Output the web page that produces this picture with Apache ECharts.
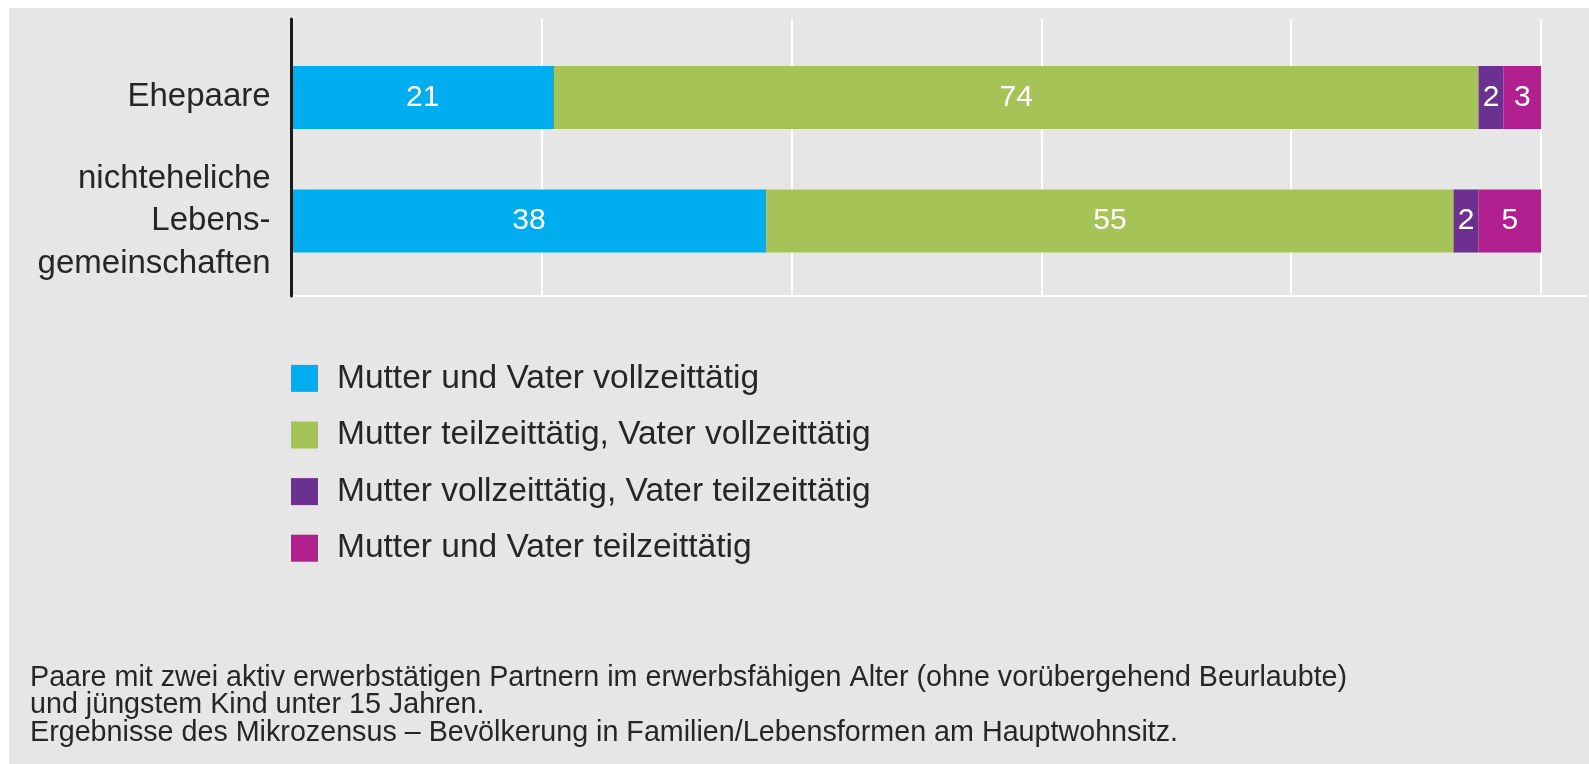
<!DOCTYPE html>
<html>
<head>
<meta charset="utf-8">
<script src="https://cdn.jsdelivr.net/npm/echarts@6/dist/echarts.min.js"></script>
<style>
  html, body { margin: 0; padding: 0; background: #ffffff; }
  #chart { width: 1589px; height: 764px; }
</style>
</head>
<body>
<div id="chart"></div>
<script>
// data
const categories = ["Ehepaare", "nichteheliche\nLebens-\ngemeinschaften"];
const seriesNames = [
  "Mutter und Vater vollzeittätig",
  "Mutter teilzeittätig, Vater vollzeittätig",
  "Mutter vollzeittätig, Vater teilzeittätig",
  "Mutter und Vater teilzeittätig",
];
const bothFull = [21, 38];
const motherPart = [74, 55];
const fatherPart = [2, 2];
const bothPart = [3, 5];
const colors = ["#00aeef", "#a6c358", "#6b3090", "#b21f8e"];
const footnote = [
  "Paare mit zwei aktiv erwerbstätigen Partnern im erwerbsfähigen Alter (ohne vorübergehend Beurlaubte)",
  "und jüngstem Kind unter 15 Jahren.",
  "Ergebnisse des Mikrozensus – Bevölkerung in Familien/Lebensformen am Hauptwohnsitz.",
];

const font = "'Liberation Sans', Arial, Helvetica, sans-serif";
const textColor = "#262626";

var myChart = echarts.init(document.getElementById("chart"));

const makeSeries = (name, data, i) => ({
  name: name,
  type: "bar",
  stack: "total",
  xAxisIndex: 1,
  yAxisIndex: 1,
  barWidth: 63,
  data: data,
  itemStyle: { color: colors[i] },
  label: {
    show: true,
    position: "inside",
    color: "#ffffff",
    fontSize: 30,
    fontFamily: font,
  },
  emphasis: { disabled: true },
});

var option = {
  animation: false,
  textStyle: { fontFamily: font },
  graphic: [
    {
      type: "rect",
      z: -10,
      shape: { x: 9, y: 8, width: 1600, height: 800 },
      style: { fill: "#e6e6e6" },
    },
  ],
  title: {
    text: footnote.join("\n"),
    left: 30,
    top: 664,
    padding: 0,
    textStyle: {
      fontSize: 28.7,
      lineHeight: 27.5,
      fontWeight: "normal",
      color: textColor,
      fontFamily: font,
    },
  },
  legend: {
    data: seriesNames,
    orient: "vertical",
    left: 291,
    top: 361.4,
    padding: 0,
    itemWidth: 27,
    itemHeight: 27,
    itemGap: 22.6,
    icon: "rect",
    textStyle: {
      fontSize: 33.5,
      lineHeight: 28,
      color: textColor,
      padding: [0, 0, 0, 14],
    },
  },
  grid: [
    // axes frame
    { left: 291.6, right: 3, top: 19, height: 277 },
    // bars
    { left: 291.6, right: 3, top: 35.6, height: 247.2 },
  ],
  xAxis: [
    {
      gridIndex: 0,
      type: "value",
      min: 0,
      max: 103.6,
      interval: 20,
      axisLine: { show: true, lineStyle: { color: "#ffffff", width: 2 } },
      axisTick: { show: false },
      axisLabel: { show: false },
      splitLine: {
        show: true,
        showMaxLine: false,
        lineStyle: { color: "#ffffff", width: 2 },
      },
    },
    {
      gridIndex: 1,
      type: "value",
      min: 0,
      max: 103.6,
      show: false,
    },
  ],
  yAxis: [
    {
      gridIndex: 0,
      type: "value",
      min: 0,
      max: 1,
      z: 5,
      axisLine: { show: true, lineStyle: { color: "#1a1a1a", width: 3 } },
      axisTick: { show: false },
      axisLabel: { show: false },
      splitLine: { show: false },
    },
    {
      gridIndex: 1,
      type: "category",
      inverse: true,
      data: categories,
      axisLine: { show: false },
      axisTick: { show: false },
      axisLabel: {
        fontSize: 33,
        lineHeight: 42.5,
        margin: 21,
        color: textColor,
        align: "right",
      },
    },
  ],
  series: [
    makeSeries(seriesNames[0], bothFull, 0),
    makeSeries(seriesNames[1], motherPart, 1),
    makeSeries(seriesNames[2], fatherPart, 2),
    makeSeries(seriesNames[3], bothPart, 3),
  ],
};

option && myChart.setOption(option);
</script>
</body>
</html>
